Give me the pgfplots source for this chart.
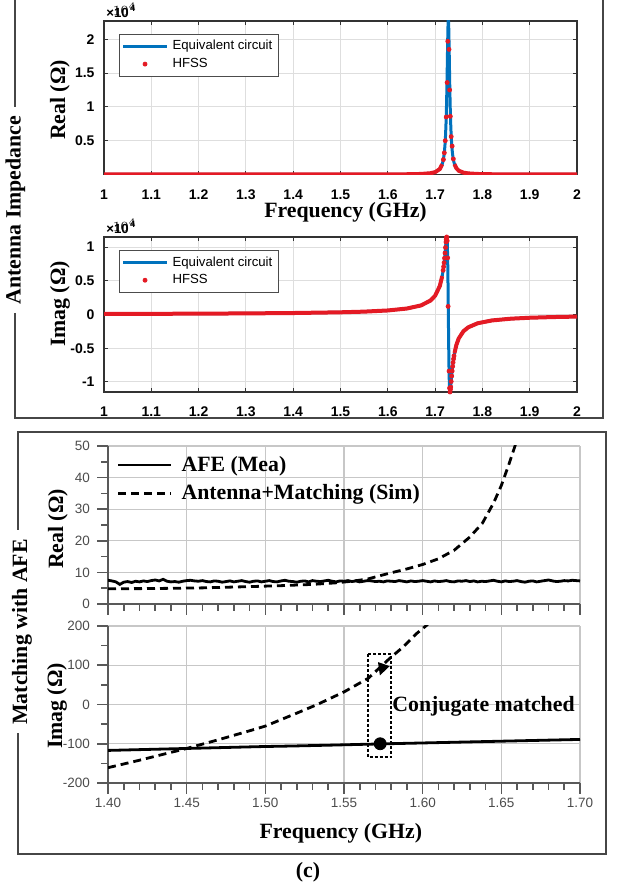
\documentclass[border=0pt]{standalone}
\usepackage{fontspec}
\setmainfont{Liberation Serif}
\setsansfont{Liberation Sans}
\usepackage{pgfplots}
\usepackage{pgfplotstable}
\pgfplotsset{compat=1.18}
\usetikzlibrary{arrows.meta}
\definecolor{mblue}{RGB}{0,114,189}
\definecolor{mred}{RGB}{228,26,36}
\definecolor{fr}{RGB}{70,70,70}
\newcommand{\lab}{\fontsize{10.9}{12}\selectfont\bfseries}
\newcommand{\tenfour}{×10\kern0.7pt\raisebox{3pt}{\fontsize{4.6}{5}\selectfont 4}}

\pgfplotstableread{
f re im
1.000 0 80
1.100 0 98
1.200 1 123
1.300 1 160
1.400 2 217
1.500 5 324
1.550 8 422
1.600 16 597
1.640 34 880
1.670 78 1340
1.690 185 2056
1.700 340 2776
1.710 808 4235
1.715 1507 5691
1.717 2054 6560
1.718 2442 7085
1.719 2942 7682
1.720 3605 8363
1.721 4491 9118
1.722 5716 9940
1.723 7420 10752
1.7235 8518 11107
1.724 9817 11377
1.7245 11340 11500
1.725 13105 11389
1.7255 15091 10926
1.726 17228 9975
1.7265 19350 8400
1.727 21222 6144
1.7275 22527 3266
1.728 23000 0
1.7285 22527 -3266
1.729 21222 -6144
1.7295 19350 -8400
1.730 17228 -9975
1.7305 15091 -10926
1.731 13105 -11389
1.7315 11340 -11500
1.732 9817 -11377
1.7325 8518 -11107
1.733 7448 -10762
1.734 5716 -9940
1.735 4522 -9140
1.736 3630 -8386
1.737 2968 -7711
1.738 2466 -7117
1.739 2078 -6592
1.740 1773 -6137
1.741 1528 -5728
1.745 921 -4510
1.750 560 -3545
1.760 270 -2478
1.770 159 -1907
1.790 74 -1301
1.820 34 -885
1.860 17 -624
1.900 10 -484
1.950 6 -380
2.000 4 -313
}\ant

\pgfplotstableread{
f re
1.7175 2200
1.7195 3200
1.7215 5000
1.7235 8500
1.7255 13600
1.7268 19700
1.7294 18500
1.7307 12500
1.7322 8600
1.7340 5600
1.7360 4200
1.7385 2300
}\hfssre

\pgfplotstableread{
f im
1.717 6560
1.718 7085
1.719 7682
1.720 8363
1.721 9118
1.722 9940
1.723 10752
1.7235 11107
1.724 11377
1.7245 11500
1.7255 10926
1.7265 8400
1.7275 1200
1.7295 -8400
1.7305 -10926
1.7315 -11500
1.7325 -11107
1.733 -10762
1.734 -9940
1.735 -9140
1.736 -8386
1.737 -7711
1.738 -7117
1.739 -6592
1.740 -6137
}\hfssim

\pgfplotstableread{
f r
1.4000 7.5
1.4025 7.3
1.4050 7.0
1.4075 6.2
1.4100 6.9
1.4125 7.1
1.4150 6.8
1.4175 7.2
1.4200 7.0
1.4225 7.3
1.4250 7.1
1.4275 7.4
1.4300 7.6
1.4325 7.3
1.4350 7.8
1.4375 7.2
1.4400 7.0
1.4425 7.1
1.4450 6.9
1.4475 7.2
1.4500 7.4
1.4525 7.5
1.4550 7.3
1.4575 7.2
1.4600 7.4
1.4625 7.1
1.4650 7.0
1.4675 7.3
1.4700 7.2
1.4725 6.9
1.4750 7.1
1.4775 7.3
1.4800 7.0
1.4825 7.2
1.4850 7.4
1.4875 7.1
1.4900 6.9
1.4925 7.2
1.4950 7.3
1.4975 7.0
1.5000 7.2
1.5025 7.4
1.5050 7.1
1.5075 7.0
1.5100 7.3
1.5125 7.5
1.5150 7.2
1.5175 7.1
1.5200 6.9
1.5225 7.2
1.5250 7.3
1.5275 7.0
1.5300 7.4
1.5325 7.2
1.5350 7.1
1.5375 7.3
1.5400 7.5
1.5425 7.2
1.5450 7.0
1.5475 7.3
1.5500 7.2
1.5525 7.4
1.5550 7.1
1.5575 7.3
1.5600 7.0
1.5625 7.2
1.5650 7.4
1.5675 7.3
1.5700 7.1
1.5725 7.2
1.5750 7.0
1.5775 7.3
1.5800 7.2
1.5825 7.1
1.5850 7.4
1.5875 7.2
1.5900 7.0
1.5925 7.3
1.5950 7.1
1.5975 7.2
1.6000 7.4
1.6025 7.2
1.6050 7.0
1.6075 7.3
1.6100 7.1
1.6125 7.2
1.6150 7.4
1.6175 7.1
1.6200 7.0
1.6225 7.3
1.6250 7.2
1.6275 7.4
1.6300 7.1
1.6325 7.3
1.6350 7.0
1.6375 7.2
1.6400 7.1
1.6425 7.3
1.6450 7.5
1.6475 7.2
1.6500 7.0
1.6525 7.3
1.6550 7.1
1.6575 7.2
1.6600 7.4
1.6625 7.1
1.6650 6.9
1.6675 7.2
1.6700 7.3
1.6725 7.0
1.6750 7.2
1.6775 7.4
1.6800 7.6
1.6825 7.3
1.6850 7.1
1.6875 7.2
1.6900 7.4
1.6925 7.3
1.6950 7.5
1.6975 7.4
1.7000 7.3
}\afere

\pgfplotsset{
  topax/.style={scale only axis, width=236.5pt, xmin=1, xmax=2,
    xtick={1,1.1,1.2,1.3,1.4,1.5,1.6,1.7,1.8,1.9,2},
    tick align=inside, tick pos=both, major tick length=1.8pt,
    grid=major, major grid style={draw=black!13, line width=0.5pt},
    axis line style={black!80, line width=0.6pt},
    every tick/.style={black!80, line width=0.5pt},
    ticklabel style={font=\sffamily\bfseries\fontsize{7}{8}\selectfont},
    /pgf/number format/assume math mode=true,
    xticklabel style={yshift=-4pt},
    yticklabel style={xshift=-1.2pt},
    legend cell align=left,
    legend image code/.code={\draw[mark repeat=2,mark phase=2,##1] plot coordinates {(0pt,0pt) (11pt,0pt) (22pt,0pt)};},
    legend style={at={(axis description cs:0.032,0.915)}, anchor=north west, draw=black!70, line width=0.4pt, fill=white, font=\sffamily\fontsize{6.6}{7.5}\selectfont, inner sep=1pt, row sep=-1.5pt},
  },
  cax/.style={scale only axis, width=236pt, xmin=1.4, xmax=1.7,
    xtick={1.4,1.45,1.5,1.55,1.6,1.65,1.7}, minor x tick num=4,
    axis x line*=bottom, axis y line*=left,
    tick align=outside, major tick length=5.5pt, minor tick length=3.5pt,
    axis line style={-, black!65, line width=1pt},
    every tick/.style={black!65, line width=0.8pt},
    grid=major, major grid style={draw=black!22, line width=0.6pt},
    ticklabel style={font=\sffamily\fontsize{6.75}{8}\selectfont, text=black!70},
    /pgf/number format/assume math mode=true,
    xticklabel style={yshift=1.5pt, /pgf/number format/.cd, fixed, fixed zerofill, precision=2},
  },
  cleg/.style={legend cell align=left,
    legend image code/.code={\draw[##1] plot coordinates {(0pt,0pt) (26.5pt,0pt)};},
    legend style={at={(axis description cs:0.005,0.99)}, anchor=north west, draw=none, fill=none, font=\lab, row sep=1.2pt, nodes={inner xsep=4.5pt}}},
}

\begin{document}
\begin{tikzpicture}
\path[use as bounding box] (0,0) rectangle (308.5pt,443pt);
% frames
\draw[fr, line width=0.8pt] (7.5pt,443pt) -- (7.5pt,389.5pt);
\draw[fr, line width=0.8pt] (7.5pt,286.5pt) -- (7.5pt,234pt) -- (301.5pt,234pt) -- (301.5pt,443pt);
\draw[fr, line width=0.8pt] (9pt,178pt) -- (9pt,227pt) -- (303pt,227pt) -- (303pt,16pt) -- (9pt,16pt) -- (9pt,76.5pt);

% ---------- top: Real
\begin{axis}[topax, at={(52pt,355.75pt)}, anchor=south west, height=76.75pt,
  ymin=0, ymax=22700, ytick={5000,10000,15000,20000}, yticklabels={0.5,1,1.5,2}]
\addplot[mblue, line width=1.5pt] table[x=f,y=re]{\ant};
\addlegendentry{Equivalent circuit}
\addplot[mred, line width=2pt, forget plot] coordinates {(1,0)(1.1,0)(1.2,1)(1.3,1)(1.4,2)(1.5,5)(1.55,8)(1.6,16)(1.64,34)(1.67,78)(1.69,185)(1.70,340)(1.71,808)(1.715,1507)};
\addplot[mred, line width=2pt, forget plot] coordinates {(1.741,1528)(1.745,921)(1.75,560)(1.76,270)(1.77,159)(1.79,74)(1.82,34)(1.86,17)(1.9,10)(1.95,6)(2.0,4)};
\addplot[only marks, mark=*, mark size=1pt, mred] table[x=f,y=re]{\hfssre};
\addlegendentry{HFSS}
\end{axis}

% ---------- top: Imag
\begin{axis}[topax, at={(52pt,247pt)}, anchor=south west, height=77.5pt,
  ymin=-11500, ymax=11500, ytick={-10000,-5000,0,5000,10000}, yticklabels={-1,-0.5,0,0.5,1}]
\addplot[mblue, line width=1.5pt] table[x=f,y=im]{\ant};
\addlegendentry{Equivalent circuit}
\addplot[mred, line width=2pt, forget plot] coordinates {(1,80)(1.1,98)(1.2,123)(1.3,160)(1.4,217)(1.5,324)(1.55,422)(1.6,597)(1.64,880)(1.67,1340)(1.69,2056)(1.70,2776)(1.71,4235)(1.715,5691)};
\addplot[mred, line width=2pt, forget plot] coordinates {(1.741,-5728)(1.745,-4510)(1.75,-3545)(1.76,-2478)(1.77,-1907)(1.79,-1301)(1.82,-885)(1.86,-624)(1.9,-484)(1.95,-380)(2.0,-313)};
\addplot[only marks, mark=*, mark size=1pt, mred] table[x=f,y=im]{\hfssim};
\addlegendentry{HFSS}
\end{axis}

% ---------- (c) Real
\begin{axis}[cax, cleg, at={(54pt,141pt)}, anchor=south west, height=79pt,
  ymin=0, ymax=50, ytick={0,10,20,30,40,50}, minor y tick num=1, xticklabels={}]
\addplot[black, line width=1.4pt] table[x=f,y=r]{\afere};
\addlegendentry{AFE (Mea)}
\addplot[black, line width=1.4pt, dash pattern=on 4pt off 2.5pt] coordinates {(1.40,4.8)(1.43,4.9)(1.46,5.1)(1.49,5.5)(1.51,5.8)(1.53,6.2)(1.545,6.7)(1.555,7.2)(1.565,7.9)(1.577,9.5)(1.59,11.1)(1.60,12.5)(1.61,14.3)(1.62,17.0)(1.63,21.2)(1.638,25.6)(1.645,31.9)(1.65,37.5)(1.655,44.5)(1.659,50.5)(1.662,56)};
\addlegendentry{Antenna+Matching (Sim)}
\end{axis}

% ---------- (c) Imag
\begin{axis}[cax, at={(54pt,51.5pt)}, anchor=south west, height=78.5pt,
  ymin=-200, ymax=200, ytick={-200,-100,0,100,200}, minor y tick num=1]
\addplot[black, line width=1.4pt] coordinates {(1.40,-117)(1.41,-116)(1.42,-115)(1.43,-114)(1.44,-113)(1.45,-112)(1.46,-111)(1.47,-110)(1.48,-109)(1.49,-108)(1.50,-107)(1.51,-106.3)(1.52,-105.5)(1.53,-104.6)(1.54,-103.7)(1.55,-102.7)(1.56,-101.7)(1.573,-100.5)(1.58,-99.8)(1.59,-98.9)(1.60,-98)(1.61,-97.1)(1.62,-96.2)(1.63,-95.3)(1.64,-94.4)(1.65,-93.5)(1.66,-92.6)(1.67,-91.7)(1.68,-90.8)(1.69,-89.9)(1.70,-89)};
\addplot[black, line width=1.4pt, dash pattern=on 4pt off 2.5pt] coordinates {(1.40,-161)(1.42,-142)(1.44,-122)(1.45,-112)(1.47,-90)(1.49,-67)(1.50,-55)(1.52,-22)(1.533,0)(1.55,32)(1.5655,67)(1.5792,118)(1.5877,147)(1.5962,181)(1.6026,202)(1.605,212)};
\addplot[only marks, mark=*, mark size=3pt, black] coordinates {(1.573,-100)};
\draw[black, line width=0.8pt, dash pattern=on 1.5pt off 1pt] (axis cs:1.5651,129) rectangle (axis cs:1.5799,-134);
\draw[black, line width=0.6pt, -{Triangle[length=6pt,width=6pt]}] (axis cs:1.5748,97) -- (axis cs:1.5728,74);
\end{axis}

% ---------- text
\node[rotate=90, font=\lab] at (7.75pt,338pt) {Antenna Impedance};
\node[rotate=90, font=\lab] at (11pt,127pt) {Matching with AFE};
\node[rotate=90, font=\lab] at (30pt,393pt) {Real (Ω)};
\node[rotate=90, font=\lab] at (30pt,291pt) {Imag (Ω)};
\node[rotate=90, font=\lab] at (29pt,178.5pt) {Real (Ω)};
\node[rotate=90, font=\lab] at (28.5pt,90pt) {Imag (Ω)};
\node[font=\lab] at (172.75pt,337pt) {Frequency (GHz)};
\node[font=\lab] at (170.4pt,26.5pt) {Frequency (GHz)};
\node[font=\lab] at (154pt,7pt) {(c)};
\node[font=\lab, anchor=west, inner sep=0pt] at (196pt,90pt) {Conjugate matched};
\node[font=\sffamily\bfseries\fontsize{6.6}{7}\selectfont, anchor=base west, inner sep=0pt] at (53pt,434pt) {\tenfour};
\node[font=\sffamily\bfseries\fontsize{6.6}{7}\selectfont, anchor=base west, inner sep=0pt] at (53pt,326pt) {\tenfour};
\end{tikzpicture}
\end{document}
